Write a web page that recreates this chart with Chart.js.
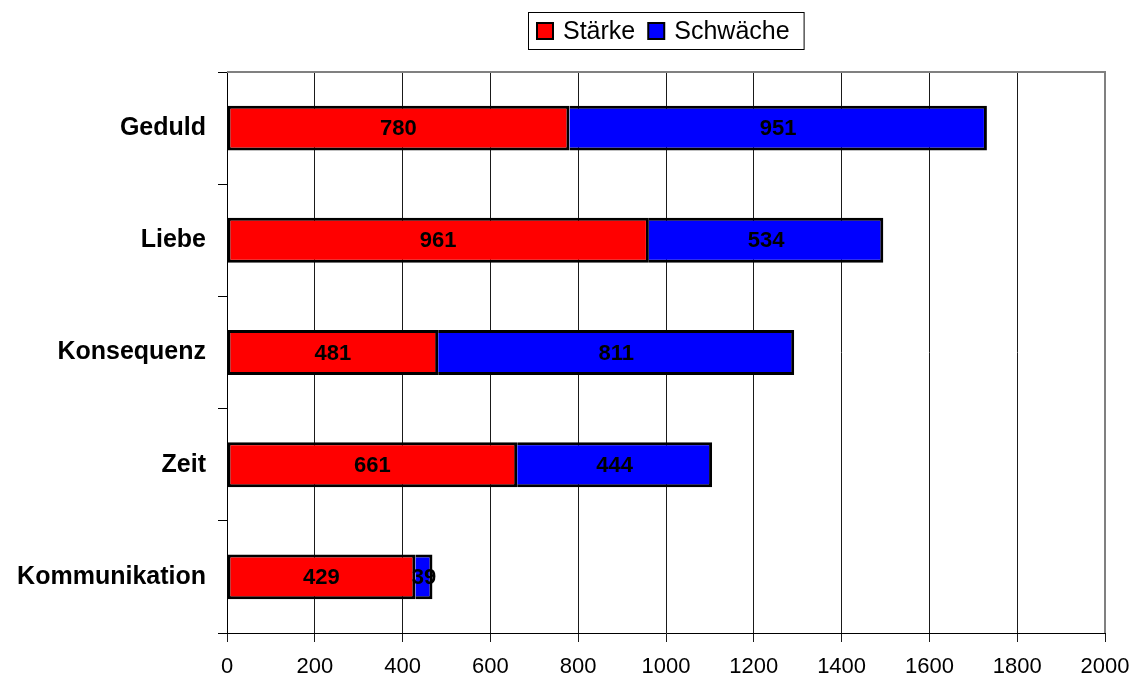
<!DOCTYPE html>
<html>
<head>
<meta charset="utf-8">
<script src="https://cdn.jsdelivr.net/npm/chart.js@4.4.0/dist/chart.umd.min.js"></script>
<style>
    html, body { margin: 0; padding: 0; background: #fff; }
    #wrap { width: 1136px; height: 679px; }
</style>
</head>
<body>
<div id="wrap"><canvas id="barChart" width="1136" height="679"></canvas></div>
<script>
const categories = ['Geduld', 'Liebe', 'Konsequenz', 'Zeit', 'Kommunikation'];
const staerke = [780, 961, 481, 661, 429];
const schwaeche = [951, 534, 811, 444, 39];
const xTicks = [0, 200, 400, 600, 800, 1000, 1200, 1400, 1600, 1800, 2000];

const FONT = "'Liberation Sans', Arial, sans-serif";

// values written in the middle of every segment
const segmentLabels = {
    id: 'segmentLabels',
    afterDatasetsDraw(chart) {
        const ctx = chart.ctx;
        ctx.save();
        ctx.font = 'bold 22px ' + FONT;
        ctx.fillStyle = '#000';
        ctx.textAlign = 'center';
        ctx.textBaseline = 'middle';
        chart.data.datasets.forEach((ds, i) => {
            chart.getDatasetMeta(i).data.forEach((bar, j) => {
                const x = (bar.x + bar.base) / 2;
                ctx.fillText(String(ds.data[j]), x, bar.y + 1);
            })
        })
        ctx.restore();
    }
}

// gray frame on top / right
const frame = {
    id: 'frame',
    afterDraw(chart) {
        const ctx = chart.ctx;
        const a = chart.chartArea;
        ctx.save();
        ctx.strokeStyle = '#808080';
        ctx.lineWidth = 2;
        ctx.beginPath();
        ctx.moveTo(a.left, a.top);
        ctx.lineTo(a.right, a.top);
        ctx.lineTo(a.right, a.bottom);
        ctx.stroke();
        ctx.restore();
    }
}

// boxed legend above the plot, centred on the chart area
const boxLegend = {
    id: 'boxLegend',
    afterDraw(chart) {
        const ctx = chart.ctx;
        const a = chart.chartArea;
        const sq = 16;
        ctx.save();
        ctx.font = '25px ' + FONT;
        const items = chart.data.datasets.map(ds => ({
            text: ds.label,
            color: ds.backgroundColor,
            w: ctx.measureText(ds.label).width
        }));
        let total = 9 + 14;
        items.forEach((it, i) => {
            total += sq + 10 + it.w;
            if (i > 0) total += 13;
        })
        const left = Math.round((a.left + a.right) / 2 - total / 2);
        const top = 12, bottom = 49, cy = 31;

        ctx.strokeStyle = '#000';
        ctx.lineWidth = 1;
        ctx.strokeRect(left + 0.5, top + 0.5, total, bottom - top);

        let x = left + 9;
        items.forEach((it, i) => {
            if (i > 0) x += 13;
            ctx.fillStyle = it.color;
            ctx.fillRect(x, cy - sq / 2, sq, sq);
            ctx.lineWidth = 2;
            ctx.strokeStyle = '#000';
            ctx.strokeRect(x, cy - sq / 2, sq, sq);
            x += sq + 10;
            ctx.fillStyle = '#000';
            ctx.textAlign = 'left';
            ctx.textBaseline = 'middle';
            ctx.fillText(it.text, x, cy + 1);
            x += it.w;
        })
        ctx.restore();
    }
}

window.addEventListener('DOMContentLoaded', function () {
    const ctx = document.getElementById('barChart');

    new Chart(ctx, {
        type: 'bar',
        data: {
            labels: categories,
            datasets: [
                {
                    label: 'Stärke',
                    data: staerke,
                    backgroundColor: '#FF0000',
                    borderColor: '#000',
                    borderWidth: 3,
                    borderSkipped: false,
                    barPercentage: 0.4,
                    categoryPercentage: 1,
                },
                {
                    label: 'Schwäche',
                    data: schwaeche,
                    backgroundColor: '#0000FF',
                    borderColor: '#000',
                    borderWidth: 3,
                    borderSkipped: 'start',
                    barPercentage: 0.4,
                    categoryPercentage: 1,
                }
            ]
        },
        options: {
            indexAxis: 'y',
            responsive: false,
            animation: false,
            layout: {
                padding: {left: 0, right: 31, top: 72, bottom: 0}
            },
            scales: {
                x: {
                    stacked: true,
                    min: 0,
                    max: 2000,
                    afterBuildTicks: axis => {
                        axis.ticks = xTicks.map(v => ({value: v}));
                    },
                    afterFit: axis => {
                        axis.height = 46;
                        axis.paddingLeft = 0;
                        axis.paddingRight = 0;
                    },
                    grid: {
                        color: '#1a1a1a',
                        lineWidth: 1,
                        tickLength: 9,
                        drawTicks: true,
                    },
                    border: {color: '#000', width: 1},
                    ticks: {
                        color: '#000',
                        padding: 12,
                        maxRotation: 0,
                        autoSkip: false,
                        font: {family: FONT, size: 22},
                        callback: v => String(v)
                    }
                },
                y: {
                    stacked: true,
                    afterFit: axis => {
                        axis.width = 227;
                    },
                    grid: {
                        offset: true,
                        drawOnChartArea: false,
                        drawTicks: true,
                        tickLength: 9,
                        color: '#000',
                    },
                    border: {color: '#000', width: 1},
                    ticks: {
                        color: '#000',
                        padding: 12,
                        font: {family: FONT, size: 25, weight: 'bold'}
                    }
                }
            },
            plugins: {
                legend: {display: false},
                tooltip: {enabled: false}
            }
        },
        plugins: [segmentLabels, frame, boxLegend]
    })
})
</script>
</body>
</html>
